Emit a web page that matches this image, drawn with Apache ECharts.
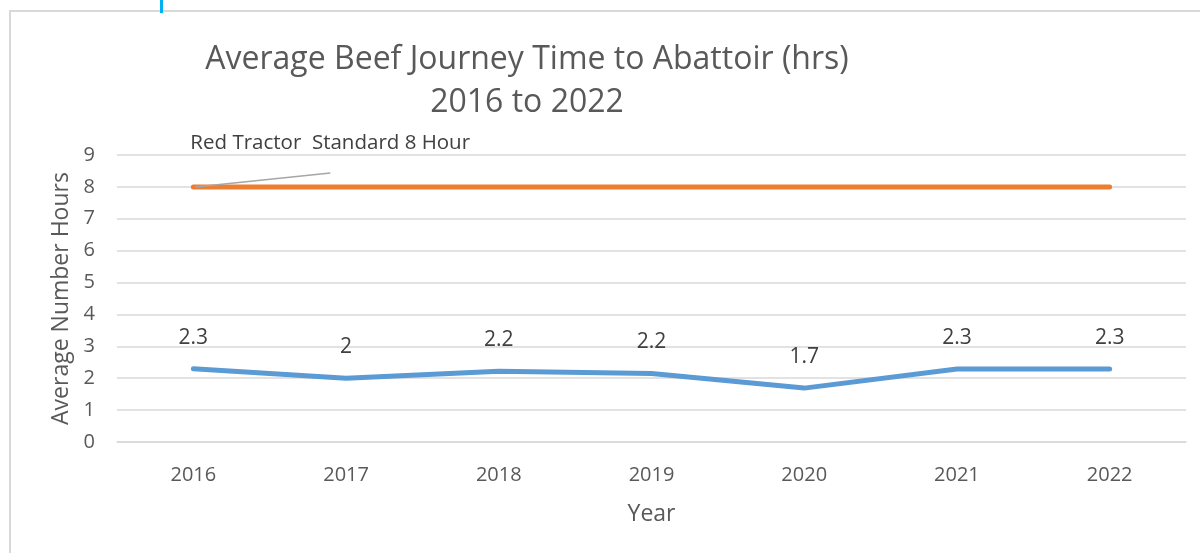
<!DOCTYPE html>
<html>
<head>
<meta charset="utf-8">
<script src="https://cdn.jsdelivr.net/npm/echarts@6/dist/echarts.min.js"></script>
<style>
  html, body { margin: 0; padding: 0; background: #fff; }
  #chart { width: 1200px; height: 553px; }
</style>
</head>
<body>
<div id="chart"></div>
<script>
const years = ['2016', '2017', '2018', '2019', '2020', '2021', '2022'];
const journeyHours = [2.3, 2.0, 2.22, 2.15, 1.69, 2.29, 2.29];
const standardHours = [8, 8, 8, 8, 8, 8, 8];
const yTicks = [0, 9, 1];   // min, max, interval
const calloutText = 'Red Tractor  Standard 8 Hour';

const textColor = '#595959';
const gridColor = '#d9d9d9';
const font = 'Open Sans';

const chart = echarts.init(document.getElementById('chart'));

// Excel "General" style: one decimal, no trailing zero
const fmt = v => String(Math.round(v * 10) / 10);

chart.setOption({
  animation: false,
  textStyle: { fontFamily: font },
  title: {
    text: 'Average Beef Journey Time to Abattoir (hrs)\n2016 to 2022',
    left: 522,
    top: 33,
    textAlign: 'center',
    textStyle: {
      color: textColor,
      fontSize: 32,
      fontWeight: 'normal',
      lineHeight: 43,
      fontFamily: font
    }
  },
  grid: { left: 117, right: 14, top: 155, bottom: 111 },
  xAxis: {
    type: 'category',
    data: years,
    boundaryGap: true,
    name: 'Year',
    nameLocation: 'middle',
    nameGap: 61,
    nameTextStyle: { color: textColor, fontSize: 23, fontFamily: font },
    axisLine: { show: true, lineStyle: { color: gridColor, width: 1.5 } },
    axisTick: { show: false },
    axisLabel: { color: textColor, fontSize: 20, margin: 23, fontFamily: font }
  },
  yAxis: {
    type: 'value',
    min: yTicks[0],
    max: yTicks[1],
    interval: yTicks[2],
    name: 'Average Number Hours',
    nameLocation: 'middle',
    nameGap: 44,
    nameTextStyle: { color: textColor, fontSize: 23, fontFamily: font },
    axisLine: { show: false },
    axisTick: { show: false },
    axisLabel: { color: textColor, fontSize: 20, margin: 22, fontFamily: font },
    splitLine: { lineStyle: { color: gridColor, width: 1.5 } }
  },
  series: [
    {
      name: 'Standard',
      type: 'line',
      data: standardHours,
      symbol: 'none',
      lineStyle: { color: '#ED7D31', width: 5, cap: 'round' },
      itemStyle: { color: '#ED7D31' },
      z: 3
    },
    {
      name: 'Average',
      type: 'line',
      data: journeyHours,
      symbol: 'circle',
      symbolSize: 1,
      showSymbol: true,
      lineStyle: { color: '#5B9BD5', width: 5, cap: 'round', join: 'round' },
      itemStyle: { color: '#5B9BD5' },
      label: {
        show: true,
        position: 'top',
        distance: 20,
        color: '#404040',
        fontSize: 21,
        fontFamily: font,
        formatter: p => fmt(p.value)
      },
      z: 4
    }
  ]
});

// callout for the 8 hour standard, anchored to its first point
const p0 = chart.convertToPixel({ seriesIndex: 0 }, [0, standardHours[0]]);
chart.setOption({
  graphic: [
    {
      type: 'rect',
      shape: { x: 10, y: 11, width: 1400, height: 700 },
      style: { fill: 'none', stroke: gridColor, lineWidth: 2 },
      silent: true,
      z: -1
    },
    {
      type: 'rect',
      shape: { x: 160, y: 0, width: 3, height: 13 },
      style: { fill: '#00B0F0' },
      silent: true
    },
    {
      type: 'line',
      shape: { x1: p0[0] + 2, y1: p0[1], x2: p0[0] + 137, y2: p0[1] - 14 },
      style: { stroke: '#a6a6a6', lineWidth: 1.5 },
      z: 10
    },
    {
      type: 'text',
      x: p0[0] - 3,
      y: p0[1] - 44,
      style: {
        text: calloutText,
        fill: '#404040',
        fontSize: 20.5,
        fontFamily: font,
        textVerticalAlign: 'middle'
      },
      z: 10
    }
  ]
});
</script>
</body>
</html>
